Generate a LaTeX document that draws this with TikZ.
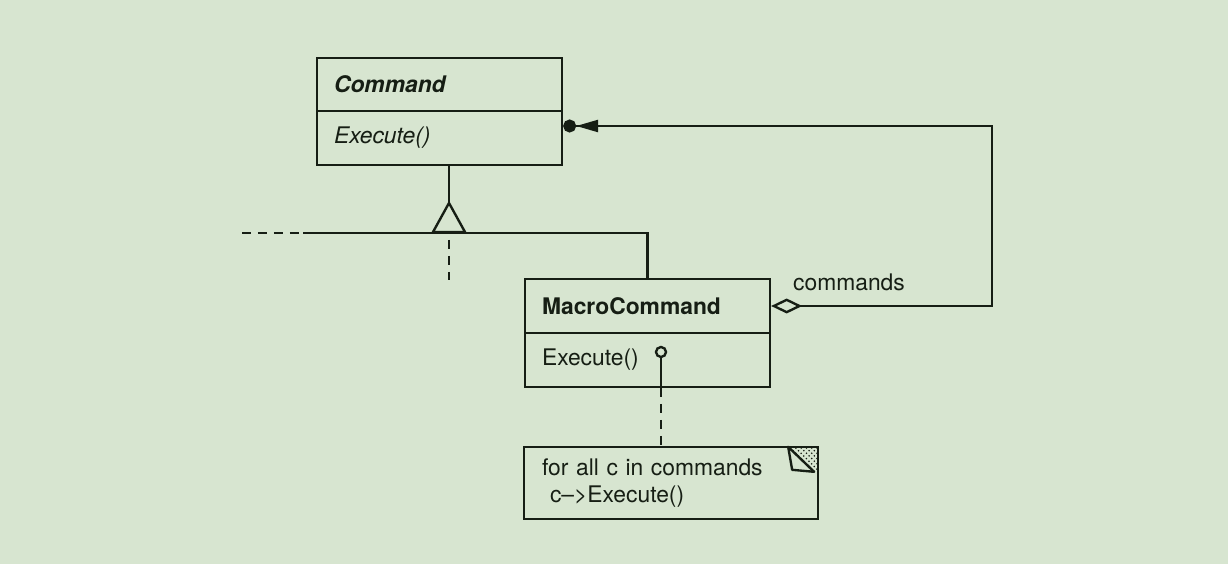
\documentclass[tikz,border=0pt]{standalone}
\usepackage{fontspec}
\setmainfont{TeX Gyre Heros}
\usetikzlibrary{positioning,patterns,calc,arrows.meta}
\definecolor{bg}{RGB}{215,229,208}
\definecolor{ink}{RGB}{22,30,20}

\begin{document}
\begin{tikzpicture}[x=0.02cm,y=-0.02cm,line width=1.35pt,color=ink,
	every node/.style={font=\fontsize{13}{15.5}\selectfont},
	cls/.style={draw,rectangle,minimum width=4.9cm,minimum height=1.07cm,inner xsep=0.34cm,text width=4.22cm,align=left},
	notebox/.style={rectangle,minimum width=5.84cm,minimum height=1.4cm,inner xsep=0.34cm,text width=5.16cm,align=left},
	dsh/.style={dash pattern=on 0.18cm off 0.14cm}]

\useasboundingbox (0,0) rectangle (1228,564);
\fill[bg] (0,0) rectangle (1228,564);

\node[cls](cmd) at (439.5,84.5) {\textbf{\textit{Command}}};
\node[cls](cmdop) at (439.5,138) {\textit{Execute()}};
\node[cls](mc) at (647.5,306) {\textbf{MacroCommand}};
\node[cls](mcop) at (647.5,360) {Execute()};
\node[notebox](note) at (671,483) {for all c in commands\\\hspace*{0.16cm}c--{>}Execute()};
\node[draw,circle,inner sep=0pt,minimum size=0.2cm](lp) at (661,352) {};
\node(lbl) at (849,282) {commands};

\coordinate(apex) at (449,203);
\coordinate(hl) at (303,233);
\coordinate(hd) at (242,233);
\coordinate(vd) at (449,240);
\coordinate(ve) at (449,280);
\coordinate(rc) at (992,126);

% generalization
\draw (cmdop.south -| apex) -- (apex);
\draw (apex) -- ++(-16,29) -- ++(32,0) -- cycle;
\draw (hl) -| (mc.north);
\foreach \a/\b in {hd/hl,vd/ve}{
	\draw[dsh] (\a) -- (\b);
}

% aggregation
\draw[{Diamond[open,fill=bg,length=0.62cm,width=0.3cm]}-{Triangle[length=0.44cm,width=0.24cm]Circle[length=0.26cm]}]
	(mc.east) -- (mc.east -| rc) -- (rc) -- (rc -| cmdop.east);

% note
\draw (lp.south) -- (lp |- mcop.south);
\draw[dsh] (lp |- mcop.south) -- (lp |- note.north);
\draw (note.south west) rectangle (note.north east);
\fill[pattern=crosshatch dots,pattern color=ink] ($(note.north east)+(-30,0)$) -- (note.north east) -- ($(note.north east)+(0,28)$) -- cycle;
\draw[fill=bg,line join=round] ($(note.north east)+(-30,0)$) -- ($(note.north east)+(-26,23)$) -- ($(note.north east)+(-4,25)$) -- cycle;

\end{tikzpicture}
\end{document}
